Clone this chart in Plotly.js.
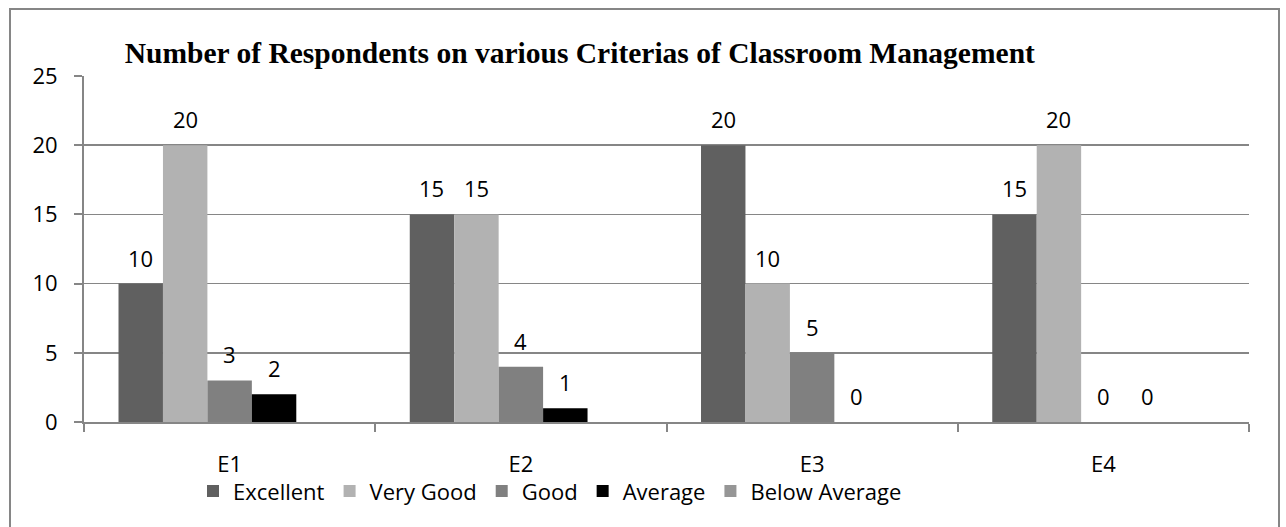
<!DOCTYPE html>
<html>
<head>
<meta charset="utf-8">
<script src="https://cdn.plot.ly/plotly-3.0.1.min.js"></script>
<style>
html,body{margin:0;padding:0;background:#fff;}
#chart{width:1286px;height:527px;}
#frame{position:absolute;left:9px;top:8px;width:1267px;height:530px;border:2px solid #868686;pointer-events:none;}
</style>
</head>
<body>
<div id="chart"></div>
<div id="frame"></div>
<script>
const categories = ["E1", "E2", "E3", "E4"];
const seriesNames = ["Excellent", "Very Good", "Good", "Average", "Below Average"];
const excellent = [10, 15, 20, 15];
const veryGood = [20, 15, 10, 20];
const good = [3, 4, 5, 0];
const average = [2, 1, 0, 0];
const belowAverage = [null, null, null, null];
const yTicks = [0, 5, 10, 15, 20, 25];

const values = [excellent, veryGood, good, average, belowAverage];
const colors = ["#606060", "#b2b2b2", "#808080", "#000000", "#969696"];
const labelFont = {family: "Open Sans, sans-serif", size: 22, color: "#000"};
const BARGAP = 0.237;

const traces = values.map((v, i) => ({
  type: "bar",
  name: seriesNames[i],
  x: categories,
  y: v,
  marker: {color: colors[i], line: {width: 0}},
  hoverinfo: "x+y+name"
}));

// value labels, placed through the category axis at each bar's slot
const nSeries = values.length;
const slot = (1 - BARGAP) / nSeries;
const annotations = [];
values.forEach((v, i) => {
  v.forEach((d, j) => {
    if (d === null) return;
    annotations.push({
      xref: "x", yref: "y",
      x: j + (i - (nSeries - 1) / 2) * slot,
      y: d,
      text: String(d),
      showarrow: false,
      yanchor: "middle", xanchor: "center",
      yshift: 26,
      font: labelFont
    });
  });
});

const layout = {
  width: 1286, height: 527,
  margin: {l: 84, r: 37, t: 76, b: 105},
  paper_bgcolor: "#fff", plot_bgcolor: "#fff",
  barmode: "group",
  bargap: BARGAP,
  bargroupgap: 0,
  showlegend: true,
  annotations: annotations,
  title: {
    text: "<b>Number of Respondents on various Criterias of Classroom Management</b>",
    font: {family: "Liberation Serif, Times New Roman, serif", size: 29.5, color: "#000"},
    x: 0.035, xanchor: "left", xref: "paper",
    y: 0.9, yanchor: "middle"
  },
  xaxis: {
    type: "category",
    range: [-0.5, 3.5],
    showline: true, linecolor: "#868686", linewidth: 2,
    ticks: "outside", tickson: "boundaries", ticklen: 8, tickcolor: "#868686", tickwidth: 2,
    ticklabelstandoff: 22,
    tickfont: labelFont,
    showgrid: false
  },
  yaxis: {
    range: [0, 25],
    tickvals: yTicks,
    showline: true, linecolor: "#868686", linewidth: 2,
    ticks: "outside", ticklen: 8, tickcolor: "#868686", tickwidth: 2,
    ticklabelstandoff: 12,
    tickfont: labelFont,
    showgrid: true, gridcolor: "#868686", gridwidth: 1.5,
    zeroline: false
  },
  legend: {
    orientation: "h",
    x: 0.40, xanchor: "center",
    y: -0.2, yanchor: "middle",
    bgcolor: "rgba(0,0,0,0)",
    font: labelFont,
    traceorder: "normal",
    itemwidth: 30
  }
};

Plotly.newPlot("chart", traces, layout, {displayModeBar: false, staticPlot: true});
</script>
</body>
</html>
